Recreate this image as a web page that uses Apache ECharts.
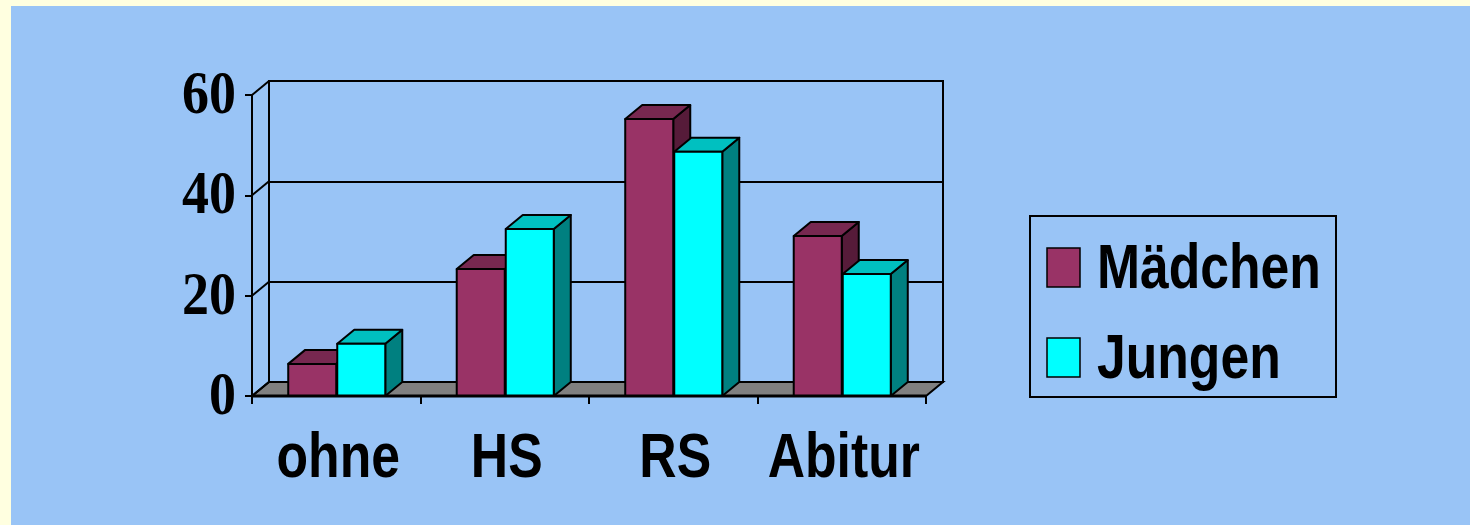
<!DOCTYPE html>
<html>
<head>
<meta charset="utf-8">
<script src="https://cdn.jsdelivr.net/npm/echarts@6/dist/echarts.min.js"></script>
<style>html,body{margin:0;padding:0;background:#99C4F6;}#c{width:1470px;height:525px;}</style>
</head>
<body>
<div id="c"></div>
<script>
const categories = ['ohne', 'HS', 'RS', 'Abitur'];
const seriesNames = ['Mädchen', 'Jungen'];
const maedchen = [6.4, 25.3, 55.2, 31.9];
const jungen = [10.4, 33.3, 48.7, 24.3];
const yTicks = [0, 20, 40, 60];

const DX = 17, DY = -14;
const frontColors = ['#993366', '#00FFFF'];
const topColors = ['#772850', '#00C0C0'];
const sideColors = ['#561B39', '#008080'];
const SANS_FONT = 'bold 63px "Liberation Sans", Arial, sans-serif';
const SERIF_FONT = 'bold 62px "Liberation Serif", "Times New Roman", serif';
const NARROW = 0.82;

function barRenderer(sIdx) {
  return function (params, api) {
    const idx = api.value(0), val = api.value(1);
    const p = api.coord([idx, val]);
    const b = api.coord([idx, 0]);
    const band = api.size([1, 0])[0];
    const w = band * 0.285;
    const x0 = sIdx === 0 ? p[0] - w : p[0] + 1;
    const x1 = x0 + w;
    const top = p[1], base = b[1];
    const ls = { stroke: '#000', lineWidth: 2, lineJoin: 'round' };
    return {
      type: 'group',
      children: [
        { type: 'polygon', shape: { points: [[x1, top], [x1 + DX, top + DY], [x1 + DX, base + DY], [x1, base]] },
          style: Object.assign({ fill: sideColors[sIdx] }, ls) },
        { type: 'polygon', shape: { points: [[x0, top], [x1, top], [x1 + DX, top + DY], [x0 + DX, top + DY]] },
          style: Object.assign({ fill: topColors[sIdx] }, ls) },
        { type: 'rect', shape: { x: x0, y: top, width: w, height: base - top },
          style: Object.assign({ fill: frontColors[sIdx] }, ls) }
      ]
    };
  };
}

// legend drawn as graphic (narrow bold text needs horizontal scaling)
const legendGraphics = [];
seriesNames.forEach(function (name, i) {
  const cy = 267.5 + i * 90;
  legendGraphics.push({ type: 'rect', z: 100, shape: { x: 1047, y: cy - 19.5, width: 33, height: 39 },
    style: { fill: frontColors[i], stroke: '#000', lineWidth: 1.5 } });
  legendGraphics.push({ type: 'text', z: 100, x: 1097, y: cy + 3, scaleX: NARROW,
    style: { text: name, font: SANS_FONT, fill: '#000', textAlign: 'left', textVerticalAlign: 'middle' } });
});

const option = {
  backgroundColor: '#99C4F6',
  animation: false,
  graphic: [
    { type: 'rect', z: 100, shape: { x: 0, y: 0, width: 11, height: 525 }, style: { fill: '#FFFFE0' } },
    { type: 'rect', z: 100, shape: { x: 0, y: 0, width: 1470, height: 6 }, style: { fill: '#FFFFE0' } },
    { type: 'rect', z: 100, shape: { x: 1030, y: 216, width: 306, height: 181 }, style: { fill: 'none', stroke: '#000', lineWidth: 2 } }
  ].concat(legendGraphics),
  grid: [
    { left: 252, top: 95, width: 674, height: 301 },
    { left: 269, top: 81, width: 674, height: 301, show: true, borderColor: '#000', borderWidth: 2, backgroundColor: 'transparent' }
  ],
  xAxis: [
    { type: 'category', gridIndex: 0, data: categories, boundaryGap: true,
      axisLine: { show: false },
      axisTick: { show: true, interval: 0, length: 8, lineStyle: { color: '#000', width: 2 } },
      axisLabel: { show: false, interval: 0 } },
    { type: 'category', gridIndex: 1, data: categories, show: false }
  ],
  yAxis: [
    { type: 'value', gridIndex: 0, min: 0, max: 60, interval: 20,
      axisLine: { show: true, lineStyle: { color: '#000', width: 2 } },
      axisTick: { show: true, length: 7, lineStyle: { color: '#000', width: 2 } },
      splitLine: { show: false },
      axisLabel: { show: false } },
    { type: 'value', gridIndex: 1, min: 0, max: 60, interval: 20,
      axisLine: { show: false }, axisTick: { show: false }, axisLabel: { show: false },
      splitLine: { show: true, lineStyle: { color: '#000', width: 2 } } }
  ],
  series: [
    { type: 'custom', name: 'floor', xAxisIndex: 0, yAxisIndex: 0, z: 3, silent: true,
      data: [[0, 0]],
      renderItem: function (params, api) {
        const cs = params.coordSys;
        const yb = api.coord([0, 0])[1];
        const xl = cs.x, xr = cs.x + cs.width;
        return { type: 'polygon', shape: { points: [[xl, yb], [xr, yb], [xr + DX, yb + DY], [xl + DX, yb + DY]] },
          style: { fill: '#808080', stroke: '#000', lineWidth: 2 } };
      } },
    { type: 'custom', name: 'diag', xAxisIndex: 0, yAxisIndex: 0, z: 3, silent: true,
      data: yTicks.map(v => [0, v]),
      renderItem: function (params, api) {
        const cs = params.coordSys;
        const y = api.coord([0, api.value(1)])[1];
        return { type: 'line', shape: { x1: cs.x, y1: y, x2: cs.x + DX, y2: y + DY },
          style: { stroke: '#000', lineWidth: 2 } };
      } },
    { type: 'custom', name: 'ylabels', xAxisIndex: 0, yAxisIndex: 0, z: 3, silent: true,
      data: yTicks.map(v => [0, v]),
      renderItem: function (params, api) {
        const cs = params.coordSys;
        const v = api.value(1);
        const y = api.coord([0, v])[1];
        return { type: 'text', x: cs.x - 16, y: y + 2, scaleX: 0.87,
          style: { text: String(v), font: SERIF_FONT, fill: '#000', textAlign: 'right', textVerticalAlign: 'middle' } };
      } },
    { type: 'custom', name: 'xlabels', xAxisIndex: 0, yAxisIndex: 0, z: 3, silent: true,
      data: categories.map((c, i) => [i, 0]),
      renderItem: function (params, api) {
        const i = api.value(0);
        const p = api.coord([i, 0]);
        return { type: 'text', x: p[0] + 2, y: p[1] + 64, scaleX: NARROW,
          style: { text: categories[i], font: SANS_FONT, fill: '#000', textAlign: 'center', textVerticalAlign: 'middle' } };
      } },
    { type: 'custom', name: seriesNames[0], xAxisIndex: 0, yAxisIndex: 0, z: 4,
      itemStyle: { color: frontColors[0] },
      data: maedchen.map((v, i) => [i, v]),
      renderItem: barRenderer(0) },
    { type: 'custom', name: seriesNames[1], xAxisIndex: 0, yAxisIndex: 0, z: 5,
      itemStyle: { color: frontColors[1] },
      data: jungen.map((v, i) => [i, v]),
      renderItem: barRenderer(1) },
    { type: 'custom', name: 'frontline', xAxisIndex: 0, yAxisIndex: 0, z: 6, silent: true,
      data: [[0, 0]],
      renderItem: function (params, api) {
        const cs = params.coordSys;
        const yb = api.coord([0, 0])[1];
        return { type: 'line', shape: { x1: cs.x, y1: yb, x2: cs.x + cs.width, y2: yb },
          style: { stroke: '#000', lineWidth: 3 } };
      } }
  ]
};
const chart = echarts.init(document.getElementById('c'), null, { renderer: 'canvas' });
chart.setOption(option);
</script>
</body>
</html>
